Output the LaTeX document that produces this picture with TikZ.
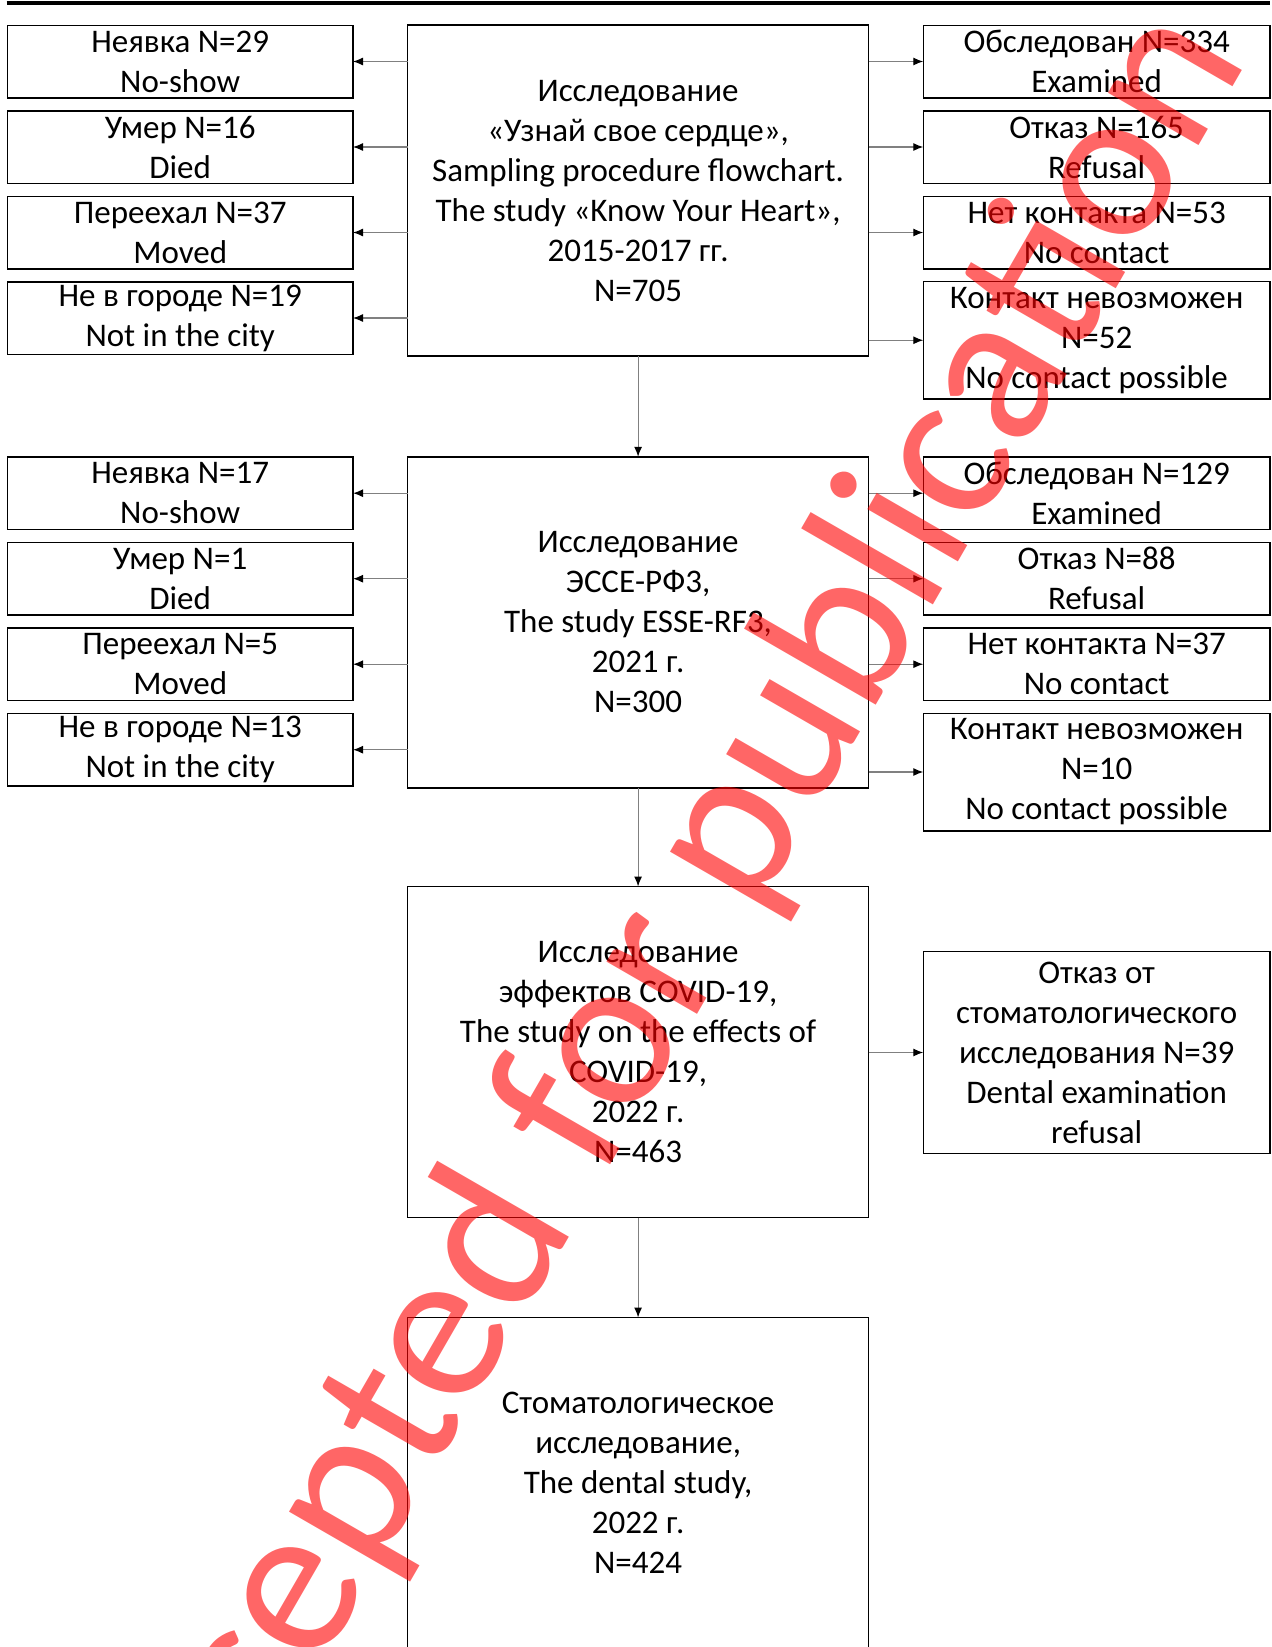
\documentclass[tikz,border=0pt]{standalone}
\usepackage{fontspec}
\setmainfont{Carlito}
\usetikzlibrary{arrows.meta}
\begin{document}
\begin{tikzpicture}[x=1pt,y=-1pt,
  box/.style={draw=black, line width=1.5pt, inner sep=0pt, outer sep=0pt, align=center, font=\fontsize{33}{40}\selectfont},
  side/.style={box, minimum width=345.6pt, minimum height=72.5pt},
  sidebig/.style={box, minimum width=346.7pt, minimum height=117.5pt},
  mainbox/.style={box, minimum width=461.2pt, minimum height=331pt},
  conn/.style={draw=black!50, line width=1.2pt, -{Latex[length=10pt,width=8pt,color=black]}},
  wmark/.style={rotate=60, anchor=base, text=red, opacity=0.6, inner sep=0pt, font=\fontsize{219}{219}\selectfont}
]
\useasboundingbox (0,0) rectangle (1272,1647);
\clip (0,0) rectangle (1272,1647);
\fill[white] (0,0) rectangle (1272,1647);
% top rule
\draw[line width=3.6pt] (6.5,2.7) -- (1270,2.7);

% ---------- section 1 ----------
\node[mainbox, minimum height=330.8pt] (m1) at (638.1,190.6) {Исследование\\«Узнай свое сердце»,\\Sampling procedure flowchart.\\The study «Know Your Heart»,\\2015-2017 гг.\\N=705};
\node[side] (l11) at (180.2,61.5) {Неявка N=29\\No-show};
\node[side] (l12) at (180.2,147) {Умер N=16\\Died};
\node[side] (l13) at (180.2,232.5) {Переехал N=37\\Moved};
\node[side] (l14) at (180.2,318) {Не в городе N=19\\Not in the city};
\node[side, minimum width=346.7pt] (r11) at (1096.65,61.5) {Обследован N=334\\Examined};
\node[side, minimum width=346.7pt] (r12) at (1096.65,147) {Отказ N=165\\Refusal};
\node[side, minimum width=346.7pt] (r13) at (1096.65,232.5) {Нет контакта N=53\\No contact};
\node[sidebig] (r14) at (1096.65,340.25) {Контакт невозможен\\N=52\\No contact possible};

% ---------- section 2 ----------
\node[mainbox] (m2) at (638.1,622.3) {Исследование\\ЭССЕ-РФ3,\\The study ESSE-RF3,\\2021 г.\\N=300};
\node[side] (l21) at (180.2,493.2) {Неявка N=17\\No-show};
\node[side] (l22) at (180.2,578.7) {Умер N=1\\Died};
\node[side] (l23) at (180.2,664.2) {Переехал N=5\\Moved};
\node[side] (l24) at (180.2,749.7) {Не в городе N=13\\Not in the city};
\node[side, minimum width=346.7pt] (r21) at (1096.65,493.2) {Обследован N=129\\Examined};
\node[side, minimum width=346.7pt] (r22) at (1096.65,578.7) {Отказ N=88\\Refusal};
\node[side, minimum width=346.7pt] (r23) at (1096.65,664.2) {Нет контакта N=37\\No contact};
\node[sidebig] (r24) at (1096.65,772) {Контакт невозможен\\N=10\\No contact possible};

% ---------- section 3 ----------
\node[mainbox] (m3) at (638.1,1052) {Исследование\\эффектов COVID-19,\\The study on the effects of\\COVID-19,\\2022 г.\\N=463};
\node[box, minimum width=346.7pt, minimum height=201.6pt] (r31) at (1096.65,1052.5) {Отказ от\\стоматологического\\исследования N=39\\Dental examination\\refusal};

% ---------- section 4 (runs off the page bottom) ----------
\node[mainbox, draw=none] (m4) at (638.1,1483) {Стоматологическое\\исследование,\\The dental study,\\2022 г.\\N=424};
\draw[line width=1.5pt] ([yshift=-20pt]m4.south west) -- (m4.north west) -- (m4.north east) -- ([yshift=-20pt]m4.south east);

% ---------- connectors ----------
\foreach \s in {1,2}{
  \foreach \k in {1,2,3,4}{
    \draw[conn] (m\s.west |- l\s\k.east) -- (l\s\k.east);
    \draw[conn] (m\s.east |- r\s\k.west) -- (r\s\k.west);
  }
}
\draw[conn] (m3.east |- r31.west) -- (r31.west);
\draw[conn] (m1.south) -- (m2.north);
\draw[conn] (m2.south) -- (m3.north);
\draw[conn] (m3.south) -- (m4.north);

% ---------- watermark ----------
\node[wmark] (wm) at (705.3,1000.6) {Accepted for publication};
\end{tikzpicture}
\end{document}
